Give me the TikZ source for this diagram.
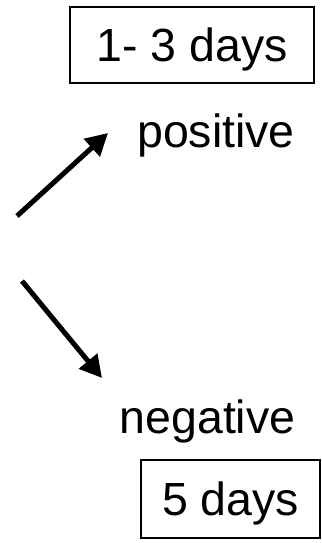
\documentclass[tikz,border=0pt]{standalone}
\usepackage{fontspec}
\setmainfont{Liberation Sans}
\usetikzlibrary{arrows.meta}
\begin{document}
\begin{tikzpicture}[x=1pt,y=-1pt,
  lbl/.style={font=\fontsize{46.5}{50}\selectfont, inner sep=0pt},
  daybox/.style={lbl, draw, line width=1.5pt, text height=33.3pt, text depth=0pt},
  arr/.style={line width=5pt, -{Triangle[length=22pt,width=23pt]}}]
\useasboundingbox (0,0) rectangle (321,543);
\node[daybox, minimum width=244pt, minimum height=76pt] (top) at (192,45) {1- 3 days};
\node[lbl, anchor=base] (pos) at (216,147) {positive};
\node[lbl, anchor=base] (neg) at (207.5,433) {negative};
\node[daybox, minimum width=179pt, minimum height=78pt] (bot) at (230.5,499) {5 days};
\coordinate (s1) at (17,216);
\coordinate (t1) at (108,133);
\coordinate (s2) at (22,281);
\coordinate (t2) at (102,378);
\draw[arr] (s1) -- (t1);
\draw[arr] (s2) -- (t2);
\end{tikzpicture}
\end{document}
